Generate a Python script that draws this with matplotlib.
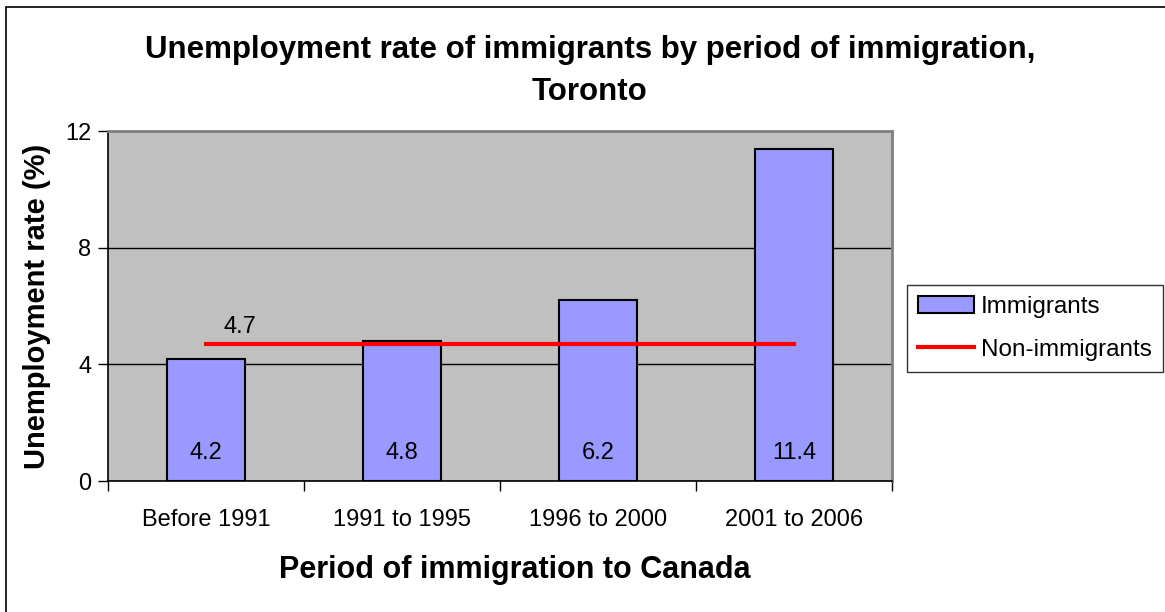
import matplotlib
matplotlib.use("Agg")
import matplotlib.pyplot as plt
from matplotlib.patches import Rectangle
import numpy as np

plt.rcParams['font.family'] = ['Liberation Sans', 'DejaVu Sans']

categories = ["Before 1991", "1991 to 1995", "1996 to 2000", "2001 to 2006"]
immigrants = [4.2, 4.8, 6.2, 11.4]
non_immigrants = [4.7, 4.7, 4.7, 4.7]
y_ticks = [0, 4, 8, 12]

W, H = 1165, 612
fig = plt.figure(figsize=(W / 100, H / 100), dpi=100)
fig.patch.set_facecolor("white")

# outer chart frame
fig.patches.append(Rectangle((6 / W, -0.2), 1.2, 1.2 - 7 / H,
                             transform=fig.transFigure, fill=False,
                             edgecolor="black", linewidth=1.2, zorder=0))

left, right, top, bottom = 108, 892, 131, 481
ax = fig.add_axes([left / W, 1 - bottom / H, (right - left) / W, (bottom - top) / H])
ax.set_facecolor("#C0C0C0")

x = np.arange(len(categories))
bars = ax.bar(x, immigrants, width=0.4, color="#9999FF", edgecolor="black",
              linewidth=1.5, zorder=3, label="Immigrants")
line, = ax.plot(x, non_immigrants, color="#FF0000", linewidth=3, zorder=4,
                label="Non-immigrants")

for xi, v in zip(x, immigrants):
    ax.annotate(f"{v:.1f}", (xi, 0), xytext=(0, 28), textcoords="offset pixels",
                ha="center", va="center", fontsize=17, zorder=5)
ax.annotate(f"{non_immigrants[0]:.1f}", (x[0], non_immigrants[0]), xytext=(34, 17),
            textcoords="offset pixels", ha="center", va="center", fontsize=17, zorder=5)

ax.set_xlim(-0.5, len(categories) - 0.5)
ax.set_ylim(0, 12)
ax.set_yticks(y_ticks)
ax.set_yticklabels([str(t) for t in y_ticks], fontsize=17)
ax.yaxis.grid(True, color="black", linewidth=1.0, zorder=1)
ax.set_axisbelow(True)

ax.set_xticks(x)
ax.set_xticklabels(categories, fontsize=17)
ax.set_xticks(np.arange(-0.5, len(categories)), minor=True)
ax.tick_params(axis="x", which="major", length=0, pad=20)
ax.tick_params(axis="x", which="minor", length=7, width=1, direction="out", color="black")
ax.tick_params(axis="y", length=7, width=1, direction="out", pad=5)

for side in ("top", "right"):
    ax.spines[side].set_color("#808080")
    ax.spines[side].set_linewidth(2)
for side in ("left", "bottom"):
    ax.spines[side].set_color("black")
    ax.spines[side].set_linewidth(1.2)

ax.set_ylabel("Unemployment rate (%)", fontsize=21, fontweight="bold", labelpad=10)
ax.set_xlabel("Period of immigration to Canada", fontsize=22, fontweight="bold")
ax.xaxis.set_label_coords((515 - left) / (right - left), -(570 - bottom) / (bottom - top))
ax.xaxis.label.set_va("center")

fig.text(590 / W, 1 - 71 / H,
         "Unemployment rate of immigrants by period of immigration,\nToronto",
         ha="center", va="center", fontsize=22.5, fontweight="bold", linespacing=1.55)

leg = fig.legend(handles=[bars, line], loc="upper left",
                 bbox_to_anchor=(907 / W, 1 - 285 / H), fontsize=17.5,
                 frameon=True, fancybox=False, edgecolor="black",
                 borderpad=0.45, labelspacing=0.85, handlelength=2.3,
                 handletextpad=0.3, borderaxespad=0)
leg.get_frame().set_linewidth(1.0)

fig.savefig("out.png", dpi=100)
